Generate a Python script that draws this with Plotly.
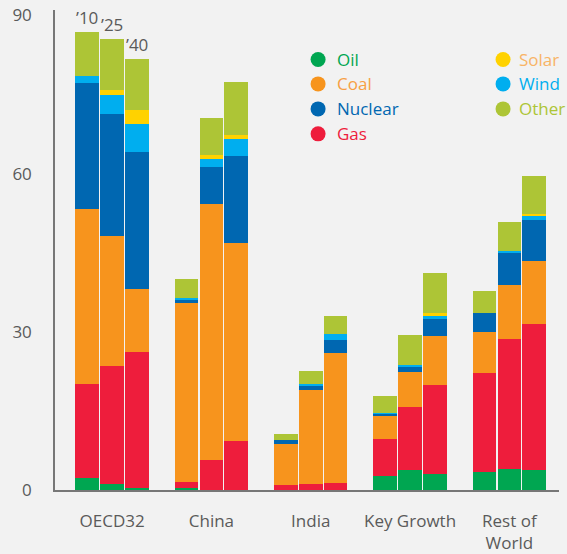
import plotly.graph_objects as go

# Regions and scenario years (three stacked bars per region)
regions = ["OECD32", "China", "India", "Key Growth", "Rest of<br>World"]
years = ["’10", "’25", "’40"]

# Values per source, ordered region by region, then 2010 / 2025 / 2040
oil = [2.2, 1.2, 0.3,   0.35, 0.0, 0.0,   0.0, 0.0, 0.0,   2.6, 3.8, 3.1,   3.5, 4.0, 3.8]
gas = [18.0, 22.3, 25.8,   1.15, 5.7, 9.3,   1.0, 1.2, 1.4,   7.1, 11.9, 16.8,   18.7, 24.6, 27.7]
coal = [33.1, 24.7, 12.1,   33.9, 48.5, 37.6,   7.8, 17.7, 24.5,   4.4, 6.6, 9.3,   7.7, 10.3, 11.9]
nuclear = [23.9, 23.2, 25.9,   0.7, 7.1, 16.5,   0.7, 0.8, 2.6,   0.4, 1.0, 3.2,   3.7, 6.0, 7.8]
wind = [1.3, 3.6, 5.4,   0.4, 1.5, 3.2,   0.0, 0.5, 1.1,   0.2, 0.4, 0.6,   0.0, 0.4, 0.9]
solar = [0.0, 0.9, 2.5,   0.0, 0.7, 0.8,   0.0, 0.0, 0.0,   0.0, 0.0, 0.6,   0.0, 0.0, 0.3]
other = [8.4, 9.7, 9.8,   3.5, 7.1, 10.0,   1.1, 2.3, 3.4,   3.2, 5.7, 7.5,   4.2, 5.6, 7.1]

y_ticks = [0, 30, 60, 90]

series = [
    ("Oil", oil, "#00A651"),
    ("Gas", gas, "#EE1D3C"),
    ("Coal", coal, "#F7941D"),
    ("Nuclear", nuclear, "#0067B1"),
    ("Wind", wind, "#00AEEF"),
    ("Solar", solar, "#FFD200"),
    ("Other", other, "#ADC536"),
]

GROUP_STEP = 4
x_pos = [g * GROUP_STEP + j for g in range(len(regions)) for j in range(len(years))]
group_centers = [g * GROUP_STEP + 1 for g in range(len(regions))]

fig = go.Figure()
for name, vals, color in series:
    fig.add_trace(go.Bar(
        x=x_pos, y=vals, name=name, width=0.95,
        marker=dict(color=color, line=dict(width=0)),
        showlegend=False,
    ))

FONT = "Open Sans"
GREY = "#5a5a5a"

# Year labels over the first region's bars
totals = [sum(s[1][k] for s in series) for k in range(len(x_pos))]
for j, lab in enumerate(years):
    fig.add_annotation(
        x=x_pos[j], y=totals[j], text=lab, showarrow=False,
        xref="x", yref="y", yanchor="bottom", yshift=1,
        font=dict(family=FONT, size=17, color=GREY),
    )

# Two-column legend drawn with dots and coloured labels
legend_items = [
    ("Oil", "#00A651", "#00A651", 0, 0),
    ("Coal", "#F7941D", "#F7A044", 0, 1),
    ("Nuclear", "#0067B1", "#0067B1", 0, 2),
    ("Gas", "#EE1D3C", "#EE1D3C", 0, 3),
    ("Solar", "#FFD200", "#F8B466", 1, 0),
    ("Wind", "#00AEEF", "#00AEEF", 1, 1),
    ("Other", "#ADC536", "#ADC536", 1, 2),
]
col_dot = [0.522, 0.889]
col_txt = [0.5615, 0.9226]
row_y = [0.897, 0.846, 0.794, 0.742]
for label, dot, txt, c, r in legend_items:
    fig.add_shape(
        type="circle", xref="paper", yref="paper",
        xsizemode="pixel", ysizemode="pixel",
        xanchor=col_dot[c], yanchor=row_y[r],
        x0=-7.5, x1=7.5, y0=-7.5, y1=7.5,
        fillcolor=dot, line=dict(width=0),
    )
    fig.add_annotation(
        x=col_txt[c], y=row_y[r], xref="paper", yref="paper",
        text=label, showarrow=False, xanchor="left", yanchor="middle",
        xshift=-3,
        font=dict(family=FONT, size=17, color=txt),
    )

fig.update_layout(
    width=567, height=554,
    margin=dict(l=55, r=8, t=10, b=64),
    paper_bgcolor="#F2F2F2", plot_bgcolor="#F2F2F2",
    barmode="stack", bargap=0,
    font=dict(family=FONT, size=17, color=GREY),
    xaxis=dict(
        range=[-1.3, 19.0], tickmode="array",
        tickvals=group_centers, ticktext=regions,
        showgrid=False, zeroline=False, showline=True,
        linecolor="#777777", linewidth=1.5, ticks="",
        automargin=False,
        ticklabelstandoff=15, tickfont=dict(size=17, color=GREY),
    ),
    yaxis=dict(
        range=[0, 91.05], tickmode="array", tickvals=y_ticks,
        showgrid=False, zeroline=False, showline=True,
        linecolor="#777777", linewidth=1.5, ticks="",
        automargin=False,
        ticklabelstandoff=18, tickfont=dict(size=17, color=GREY),
    ),
)

fig.write_html("out.html")
